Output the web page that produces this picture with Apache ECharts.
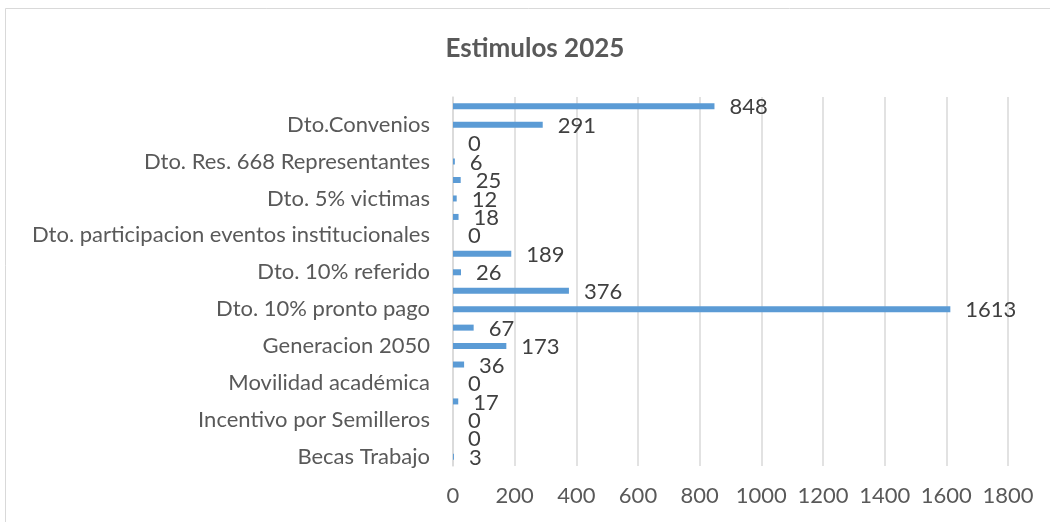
<!DOCTYPE html>
<html>
<head>
<meta charset="utf-8">
<script src="https://cdn.jsdelivr.net/npm/echarts@6/dist/echarts.min.js"></script>
<style>
  html, body { margin: 0; padding: 0; background: #ffffff; }
  #chart { width: 1050px; height: 522px; }
</style>
</head>
<body>
<div id="chart"></div>
<script>
// Rows listed bottom to top; only every other row carries a printed name.
const categories = [
  'Becas Trabajo', '',
  'Incentivo por Semilleros', '',
  'Movilidad académica', '',
  'Generacion 2050', '',
  'Dto. 10% pronto pago', '',
  'Dto. 10% referido', '',
  'Dto. participacion eventos institucionales', '',
  'Dto. 5% victimas', '',
  'Dto. Res. 668 Representantes', '',
  'Dto.Convenios', ''
];
const values = [
  3, 0,
  0, 17,
  0, 36,
  173, 67,
  1613, 376,
  26, 189,
  0, 18,
  12, 25,
  6, 0,
  291, 848
];
const xTicks = [0, 200, 400, 600, 800, 1000, 1200, 1400, 1600, 1800];
const chartTitle = 'Estimulos 2025';

const FONT = 'Lato, "Open Sans", sans-serif';

const chart = echarts.init(document.getElementById('chart'), null, { renderer: 'canvas' });
chart.setOption({
  animation: false,
  backgroundColor: '#ffffff',
  title: {
    text: chartTitle,
    left: 530,
    top: 31,
    textAlign: 'center',
    textStyle: { fontFamily: FONT, fontSize: 26, fontWeight: 'bold', color: '#595959' }
  },
  graphic: [{
    type: 'rect',
    shape: { x: 5.5, y: 8.5, width: 1100, height: 600 },
    style: { fill: 'none', stroke: '#d9d9d9', lineWidth: 1 },
    silent: true
  }],
  grid: { left: 453, right: 42, top: 97, bottom: 56, containLabel: false },
  xAxis: {
    type: 'value',
    min: xTicks[0],
    max: xTicks[xTicks.length - 1],
    interval: xTicks[1] - xTicks[0],
    axisLine: { show: false },
    axisTick: { show: false },
    splitLine: { show: true, lineStyle: { color: '#d9d9d9', width: 1.5 } },
    axisLabel: {
      fontFamily: FONT, fontSize: 22, color: '#595959', margin: 19,
      formatter: v => String(v)
    }
  },
  yAxis: {
    type: 'category',
    data: categories,
    axisLine: { show: true, lineStyle: { color: '#d9d9d9', width: 1.5 } },
    axisTick: { show: false },
    axisLabel: { interval: 1, fontFamily: FONT, fontSize: 22, color: '#595959', margin: 23 }
  },
  series: [{
    type: 'bar',
    data: values,
    barWidth: 6,
    itemStyle: { color: '#5b9bd5' },
    label: {
      show: true,
      position: 'right',
      distance: 15,
      fontFamily: FONT,
      fontSize: 22,
      color: '#404040',
      offset: [0, 1]
    }
  }]
});
</script>
</body>
</html>
